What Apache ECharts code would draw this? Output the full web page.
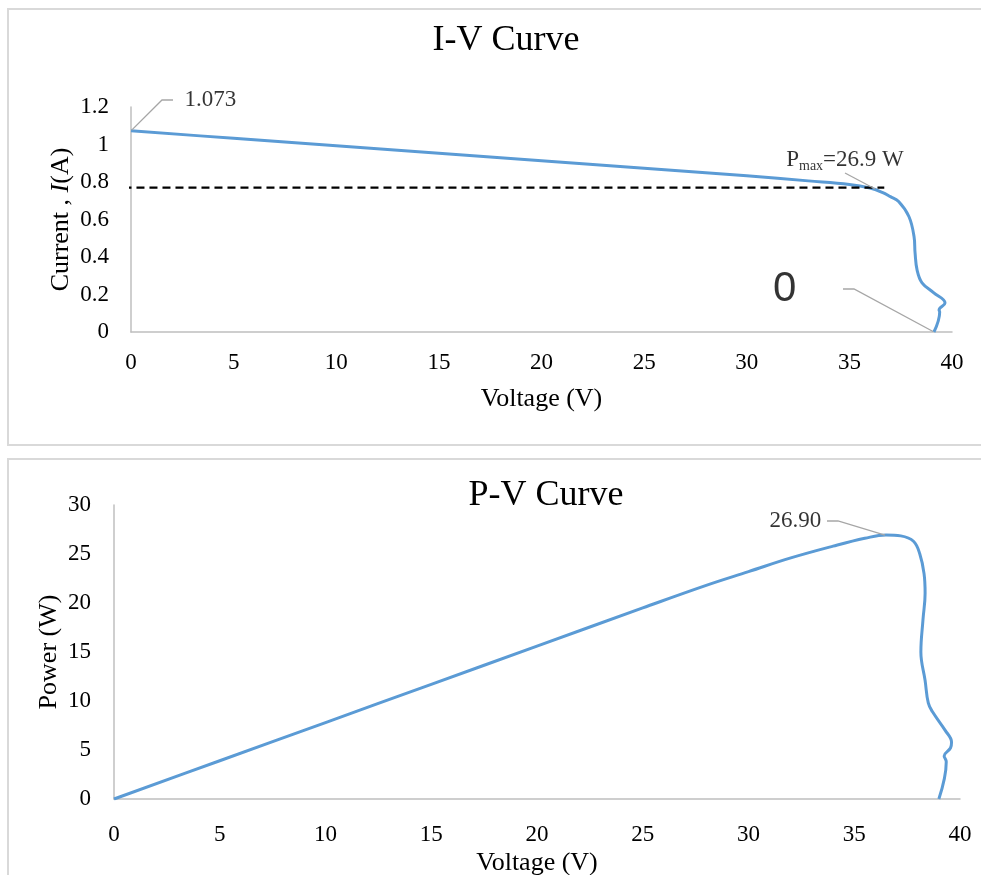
<!DOCTYPE html>
<html>
<head>
<meta charset="utf-8">
<script src="https://cdn.jsdelivr.net/npm/echarts@6/dist/echarts.min.js"></script>
<style>
  html, body { margin: 0; padding: 0; background: #fff; }
  #main { width: 981px; height: 875px; }
</style>
</head>
<body>
<div id="main"></div>
<script>
// I-V curve (volts, amps)
var ivVoltage = [0, 5, 10, 15, 20, 25, 30, 33, 35, 36, 36.6, 37.0, 37.4, 37.9, 38.15, 38.2, 38.3, 38.54, 39.1, 39.66, 39.37, 39.4, 39.12];
var ivCurrent = [1.073, 1.033, 0.993, 0.953, 0.913, 0.873, 0.833, 0.806, 0.787, 0.768, 0.745, 0.722, 0.696, 0.616, 0.509, 0.423, 0.33, 0.262, 0.21, 0.155, 0.118, 0.107, 0];

// P-V curve (volts, watts)
var pvVoltage = [0, 5, 10, 15, 20, 25, 28, 30, 32, 34, 35.5, 36.5, 37.2, 37.8, 38.1, 38.3, 38.35, 38.25, 38.15, 38.35, 38.5, 38.7, 39.3, 39.6, 39.55, 39.25, 39.35, 39.0];
var pvPower = [0, 3.9, 7.8, 11.7, 15.6, 19.5, 21.8, 23.2, 24.6, 25.8, 26.6, 26.95, 26.85, 26.3, 25.0, 23.0, 21.0, 18.3, 15.0, 12.1, 9.8, 8.9, 7.0, 5.8, 5.2, 4.4, 3.8, 0];

// annotations
var ivLabelVoltage = [0, 36.3, 39.12];
var ivLabelCurrent = [1.073, 0.76, 0];
var ivLabelText = ['  1.073', '{p|P}{sub|max}{p|=26.9 W}', '0    '];
var pvLabelVoltage = [36.5];
var pvLabelPower = [26.9];
var pvLabelText = ['26.90 '];

// dashed Pmax current line
var pmaxLineVoltage = [-1.0, 36.7];
var pmaxLineCurrent = [0.77, 0.77];

// axis ticks
var voltageTicks = [0, 5, 10, 15, 20, 25, 30, 35, 40];
var currentTicks = [0, 0.2, 0.4, 0.6, 0.8, 1, 1.2];
var powerTicks = [0, 5, 10, 15, 20, 25, 30];

function pairs(xs, ys) {
  return xs.map(function (x, k) { return [x, ys[k]]; });
}

var serif = 'Liberation Serif';
var blue = '#5b9bd5';
var axisGray = '#bfbfbf';

function valueAxis(ticks, extra) {
  var a = {
    type: 'value',
    min: ticks[0],
    max: ticks[ticks.length - 1],
    interval: ticks[1] - ticks[0],
    axisLine: { show: true, onZero: false, lineStyle: { color: axisGray, width: 1.5 } },
    axisTick: { show: false },
    splitLine: { show: false },
    axisLabel: { color: '#000', fontFamily: serif, fontSize: 23 },
    nameLocation: 'middle',
    nameMoveOverlap: false,
    nameTextStyle: { color: '#000', fontFamily: serif, fontSize: 26 }
  };
  for (var k in extra) a[k] = extra[k];
  return a;
}

// label placement for the annotation points (pixels)
var labelSpots = {
  iv: [
    { x: 173, y: 100, align: 'left', verticalAlign: 'middle' },
    { x: 845, y: 160, align: 'center', verticalAlign: 'middle' },
    { x: 843, y: 289, align: 'right', verticalAlign: 'middle' }
  ],
  pv: [
    { x: 827, y: 521, align: 'right', verticalAlign: 'middle' }
  ]
};

var ivLabelData = ivLabelVoltage.map(function (v, k) {
  var item = { value: [v, ivLabelCurrent[k]] };
  if (k === 1) {
    item.labelLine = { length2: 0 };
  } else if (k === 2) {
    item.label = { fontFamily: 'Liberation Sans', fontSize: 42 };
  }
  return item;
});

var pvLabelData = pvLabelVoltage.map(function (v, k) {
  return { value: [v, pvLabelPower[k]] };
});

var chart = echarts.init(document.getElementById('main'));

var option = {
  animation: false,
  backgroundColor: '#fff',
  title: [
    { text: 'I-V Curve', left: 501, top: 18, textAlign: 'center',
      textStyle: { fontFamily: serif, fontSize: 36, fontWeight: 'normal', color: '#000' } },
    { text: 'P-V Curve', left: 541, top: 473, textAlign: 'center',
      textStyle: { fontFamily: serif, fontSize: 36, fontWeight: 'normal', color: '#000' } }
  ],
  graphic: [
    { type: 'rect', silent: true, z: -10, shape: { x: 8, y: 9, width: 990, height: 436 },
      style: { fill: '#fff', stroke: '#d9d9d9', lineWidth: 2 } },
    { type: 'rect', silent: true, z: -10, shape: { x: 8, y: 459, width: 990, height: 440 },
      style: { fill: '#fff', stroke: '#d9d9d9', lineWidth: 2 } }
  ],
  grid: [
    { left: 131, right: 29, top: 107, bottom: 543, outerBoundsMode: 'none' },
    { left: 114, right: 21, top: 505, bottom: 76, outerBoundsMode: 'none' }
  ],
  xAxis: [
    valueAxis(voltageTicks, { gridIndex: 0, name: 'Voltage (V)', nameGap: 54,
      axisLabel: { color: '#000', fontFamily: serif, fontSize: 23, margin: 19 } }),
    valueAxis(voltageTicks, { gridIndex: 1, name: 'Voltage (V)', nameGap: 51,
      axisLabel: { color: '#000', fontFamily: serif, fontSize: 23, margin: 24 } })
  ],
  yAxis: [
    valueAxis(currentTicks, { gridIndex: 0, name: '{n|Current , }{i|I}{n|(A)}', nameGap: 57,
      axisLabel: { color: '#000', fontFamily: serif, fontSize: 23, margin: 22 },
      nameTextStyle: { color: '#000', fontFamily: serif, fontSize: 26,
        rich: {
          n: { fontFamily: serif, fontSize: 26, color: '#000' },
          i: { fontFamily: serif, fontSize: 26, color: '#000', fontStyle: 'italic' }
        } } }),
    valueAxis(powerTicks, { gridIndex: 1, name: 'Power (W)', nameGap: 52,
      axisLabel: { color: '#000', fontFamily: serif, fontSize: 23, margin: 23 } })
  ],
  series: [
    {
      name: 'I-V', type: 'line', xAxisIndex: 0, yAxisIndex: 0,
      data: pairs(ivVoltage, ivCurrent),
      smooth: 0.4, showSymbol: false, z: 2,
      lineStyle: { color: blue, width: 3 }
    },
    {
      name: 'Pmax current', type: 'line', xAxisIndex: 0, yAxisIndex: 0,
      data: pairs(pmaxLineVoltage, pmaxLineCurrent),
      showSymbol: false, clip: false, z: 3,
      lineStyle: { color: '#000', width: 2.2, type: [8, 5] }
    },
    {
      name: 'I-V labels', type: 'scatter', xAxisIndex: 0, yAxisIndex: 0,
      data: ivLabelData, symbolSize: 2, z: 4,
      itemStyle: { color: 'rgba(0,0,0,0)' },
      label: {
        show: true, color: '#000', fontFamily: serif, fontSize: 23,
        formatter: function (p) { return ivLabelText[p.dataIndex]; },
        rich: {
          p: { fontFamily: serif, fontSize: 23, color: '#000' },
          sub: { fontFamily: serif, fontSize: 14, color: '#000', padding: [12, 0, 0, 0] }
        }
      },
      labelLine: { show: true, length2: 11, lineStyle: { color: '#a6a6a6', width: 1.3 } },
      labelLayout: function (p) { return labelSpots.iv[p.dataIndex]; }
    },
    {
      name: 'P-V', type: 'line', xAxisIndex: 1, yAxisIndex: 1,
      data: pairs(pvVoltage, pvPower),
      smooth: 0.4, showSymbol: false, z: 2,
      lineStyle: { color: blue, width: 3 }
    },
    {
      name: 'P-V labels', type: 'scatter', xAxisIndex: 1, yAxisIndex: 1,
      data: pvLabelData, symbolSize: 2, z: 4,
      itemStyle: { color: 'rgba(0,0,0,0)' },
      label: {
        show: true, color: '#000', fontFamily: serif, fontSize: 23,
        formatter: function (p) { return pvLabelText[p.dataIndex]; }
      },
      labelLine: { show: true, length2: 11, lineStyle: { color: '#a6a6a6', width: 1.3 } },
      labelLayout: function (p) { return labelSpots.pv[p.dataIndex]; }
    }
  ]
};

chart.setOption(option);
</script>
</body>
</html>
